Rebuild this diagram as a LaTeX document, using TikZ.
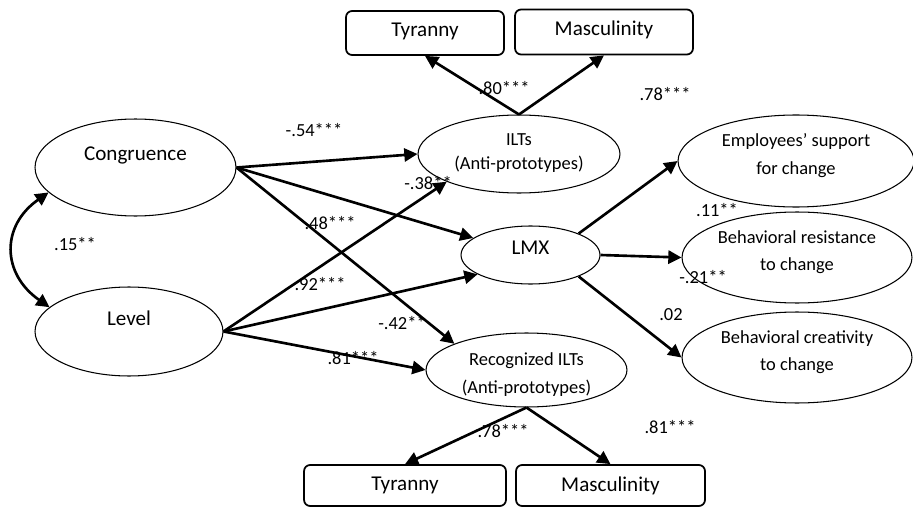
\documentclass[tikz,border=0pt]{standalone}
\usepackage{fontspec}
\setmainfont{Carlito}
\usetikzlibrary{shapes.geometric,arrows.meta}
\newcommand{\lbl}[2]{\raisebox{#1}[0pt][0pt]{\begin{tabular}{@{}c@{}}#2\end{tabular}}}

\begin{document}
\begin{tikzpicture}[x=0.02cm, y=0.02cm,
    latent/.style={ellipse, draw, line width=0.6pt, inner sep=0pt},
    big/.style={font=\fontsize{12}{14}\selectfont},
    small/.style={font=\fontsize{10.5}{#1}\selectfont},
    indic/.style={draw, line width=1pt, rounded corners=3.5pt, inner sep=0pt, font=\fontsize{12}{14}\selectfont},
    path/.style={line width=1.5pt, -{Triangle[length=7.5pt, width=7.5pt]}},
    coef/.style={font=\fontsize{10.5}{12}\selectfont, inner sep=0pt}]
            \useasboundingbox (0,0) rectangle (913,508);

            % exogenous variables
            \node[latent, big, minimum width=4.02cm, minimum height=1.94cm] (cong) at (135.5, 340.5) {\raisebox{16pt}{Congruence}};
            \node[latent, big, minimum width=3.76cm, minimum height=1.78cm] (level) at (129, 176.5) {\raisebox{15.4pt}{Level}};

            % mediators
            \node[latent, small=13.7pt, minimum width=4.04cm, minimum height=1.56cm] (ilts) at (519, 354) {\lbl{-1.8pt}{ILTs\\(Anti-prototypes)}};
            \node[latent, big, minimum width=2.78cm, minimum height=1.16cm] (lmx) at (530.5, 253) {\raisebox{8pt}{LMX}};
            \node[latent, small=16pt, minimum width=4.02cm, minimum height=1.48cm] (rilts) at (526.5, 138) {\lbl{-4.7pt}{Recognized ILTs\\(Anti-prototypes)}};

            % outcomes
            \node[latent, small=15.6pt, minimum width=4.72cm, minimum height=1.84cm] (supp) at (796, 347) {\lbl{0.6pt}{Employees' support\\for change}};
            \node[latent, small=15.6pt, minimum width=4.60cm, minimum height=1.82cm] (resist) at (797, 250.5) {\lbl{0.6pt}{Behavioral resistance\\to change}};
            \node[latent, small=15.6pt, minimum width=4.60cm, minimum height=1.82cm] (creat) at (797, 150.5) {\lbl{0.6pt}{Behavioral creativity\\to change}};

            % indicators
            \node[indic, minimum width=3.16cm, minimum height=0.88cm] (tyr1) at (425, 475) {\raisebox{4pt}{Tyranny}};
            \node[indic, minimum width=3.56cm, minimum height=0.90cm] (mas1) at (604, 476) {\raisebox{4pt}{Masculinity}};
            \node[indic, minimum width=4.04cm, minimum height=0.82cm] (tyr2) at (405, 22.5) {Tyranny};
            \node[indic, minimum width=3.78cm, minimum height=0.82cm] (mas2) at (610.5, 22.5) {Masculinity};

            % paths
            \draw[path] (cong.east) -- (ilts.west);
            \draw[path] (cong.east) -- (lmx);
            \draw[path] (cong.east) -- (rilts.160);
            \draw[path] (level.east) -- (ilts.201);
            \draw[path] (level.east) -- (lmx.200);
            \draw[path] (level.east) -- (rilts.west);
            \draw[path] (lmx.24) -- (supp.west);
            \draw[path] (lmx.east) -- (resist.west);
            \draw[path] (lmx.-24) -- (creat.west);
            \draw[path] (ilts.north) -- (tyr1.south);
            \draw[path] (ilts.north) -- (mas1.south);
            \draw[path] (rilts.south) -- (tyr2.north);
            \draw[path] (rilts.south) -- (mas2.north);

            % covariance
            \draw[line width=1.5pt, {Triangle[length=7.5pt, width=7.5pt]}-{Triangle[length=7.5pt, width=7.5pt]}]
                (cong.196) to[out=215, in=145, looseness=1.3] (level.163);

            % coefficients
            \node[coef] (c1) at (314, 378) {-.54***};
            \node[coef] (c2) at (428, 325) {-.38**};
            \node[coef] (c3) at (330, 285) {.48***};
            \node[coef] (c4) at (75, 264) {.15**};
            \node[coef] (c5) at (320, 224) {.92***};
            \node[coef] (c6) at (402, 185) {-.42**};
            \node[coef] (c7) at (353, 150) {.81***};
            \node[coef] (c8) at (504, 420) {.80***};
            \node[coef] (c9) at (665, 414) {.78***};
            \node[coef] (c10) at (717, 298) {.11**};
            \node[coef] (c11) at (703, 231) {-.21**};
            \node[coef] (c12) at (671, 193) {.02};
            \node[coef] (c13) at (503, 77) {.78***};
            \node[coef] (c14) at (670, 81) {.81***};

        \end{tikzpicture}
\end{document}
